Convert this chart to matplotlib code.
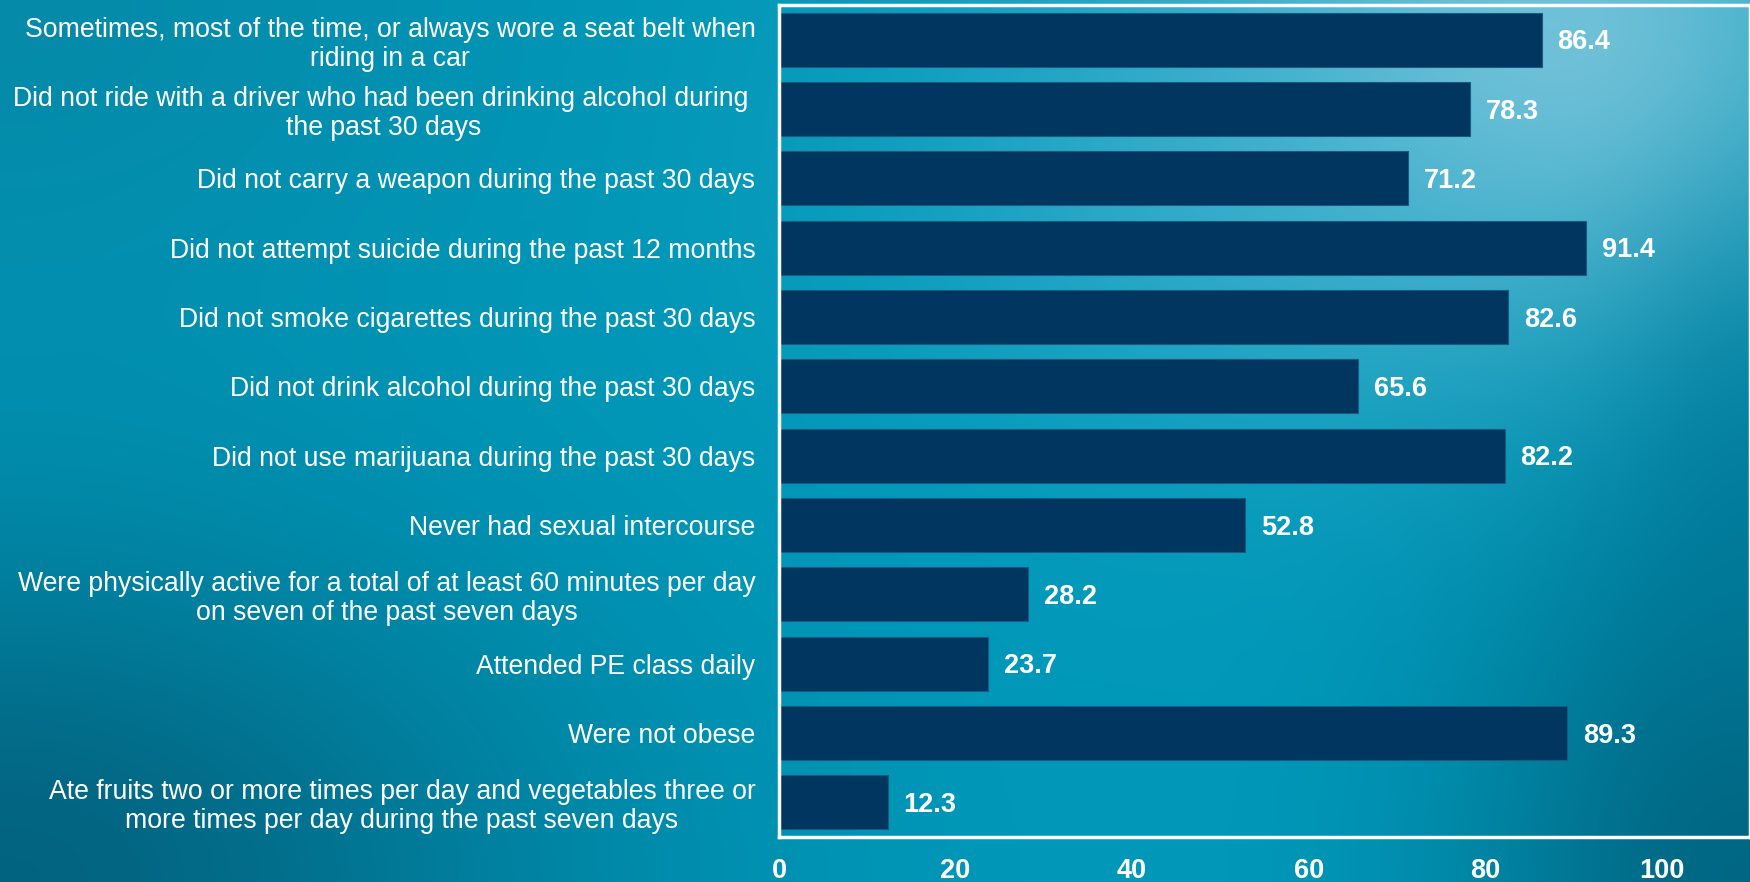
import numpy as np
import matplotlib.pyplot as plt

# Survey items (top to bottom) and percent of students
categories = [
    "Sometimes, most of the time, or always wore a seat belt when\nriding in a car",
    "Did not ride with a driver who had been drinking alcohol during \nthe past 30 days",
    "Did not carry a weapon during the past 30 days",
    "Did not attempt suicide during the past 12 months",
    "Did not smoke cigarettes during the past 30 days",
    "Did not drink alcohol during the past 30 days",
    "Did not use marijuana during the past 30 days",
    "Never had sexual intercourse",
    "Were physically active for a total of at least 60 minutes per day\non seven of the past seven days",
    "Attended PE class daily",
    "Were not obese",
    "Ate fruits two or more times per day and vegetables three or\nmore times per day during the past seven days",
]
values = [86.4, 78.3, 71.2, 91.4, 82.6, 65.6, 82.2, 52.8, 28.2, 23.7, 89.3, 12.3]
xticks = [0, 20, 40, 60, 80, 100]

plt.rcParams['font.family'] = ['Liberation Sans', 'DejaVu Sans']

W, H = 1750, 882
fig = plt.figure(figsize=(W / 100, H / 100), dpi=100)

# teal gradient background
yy, xx = np.mgrid[0:1:H * 1j, 0:1:W * 1j]
base = np.array([0.0, 0.60, 0.73])
img = np.ones((H, W, 3)) * base


def blob(cx, cy, sx, sy):
    return np.exp(-(((xx - cx) / sx) ** 2 + ((yy - cy) / sy) ** 2))


def mix(img, color, w):
    w = w[..., None]
    return img * (1 - w) + np.array(color) * w


img = mix(img, [0.03, 0.52, 0.64], 0.7 * blob(0.0, 0.0, 0.3, 0.4))
img = mix(img, [0.01, 0.38, 0.49], 0.95 * blob(0.0, 1.0, 0.32, 0.4))
img = mix(img, [0.52, 0.79, 0.87], 0.9 * blob(0.88, 0.05, 0.2, 0.32))
img = mix(img, [0.28, 0.70, 0.82], 0.5 * blob(0.70, 0.2, 0.2, 0.3))
img = mix(img, [0.0, 0.39, 0.50], 0.95 * blob(1.0, 1.0, 0.16, 0.45))
img = mix(img, [0.0, 0.45, 0.58], 0.5 * blob(1.0, 0.55, 0.07, 0.3))
bg = fig.add_axes([0, 0, 1, 1], zorder=-1)
bg.imshow(np.clip(img, 0, 1), aspect='auto', extent=[0, 1, 0, 1])
bg.axis('off')

ax = fig.add_axes([779 / W, 1 - 837 / H, 1 - 779 / W, (837 - 5) / H])
ax.patch.set_alpha(0)
y = np.arange(len(categories))
ax.barh(y, values, height=0.78, color='#003660', edgecolor='#1a5a80', linewidth=0.8)
ax.set_ylim(len(categories) - 0.5, -0.5)
ax.set_xlim(0, 110)

for yi, v in zip(y, values):
    ax.text(v + 1.8, yi + 0.04, f"{v:.1f}", va='center', ha='left', color='white',
            fontsize=19.5, fontweight='bold')

ax.set_yticks(y)
ax.set_yticklabels(categories, fontsize=19.2, color='white',
                   multialignment='center', linespacing=1.15)
ax.set_xticks(xticks)
ax.set_xticklabels([str(t) for t in xticks], fontsize=19.5, color='white', fontweight='bold')
ax.tick_params(axis='y', length=0, pad=17)
ax.tick_params(axis='x', length=0, pad=15)
for s in ax.spines.values():
    s.set_color('white')
    s.set_linewidth(2.5)

fig.savefig('out.png', dpi=100)
